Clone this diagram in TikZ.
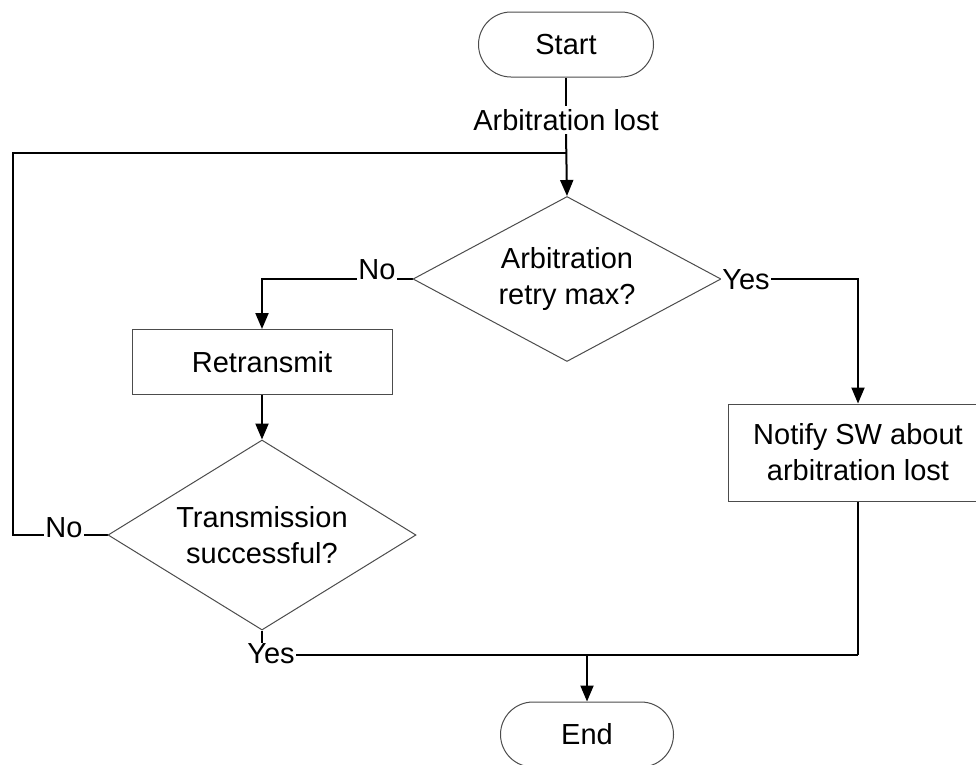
\documentclass[tikz,border=0pt]{standalone}
\usepackage{fontspec}
\setmainfont{Liberation Sans}
\usetikzlibrary{shapes.geometric,shapes.misc,arrows.meta,backgrounds}

\tikzset{
  base/.style={draw=black!70, line width=1pt, fill=white, inner sep=0pt,
               align=center, font=\fontsize{29}{36}\selectfont},
  terminal/.style={base, rounded rectangle, minimum height=65pt},
  process/.style={base, rectangle, minimum width=260pt},
  decision/.style={base, diamond, minimum width=308pt},
  lbl/.style={fill=white, inner sep=1pt, font=\fontsize{29}{36}\selectfont},
  conn/.style={line width=2pt, draw=black},
  arrow/.style={-{Triangle[length=16pt,width=13pt]}},
}

\begin{document}
\begin{tikzpicture}[x=1pt, y=-1pt]
  \useasboundingbox (0,0) rectangle (976,764);
  \clip (0,0) rectangle (976,764);

  % flowchart nodes
  \node[terminal, minimum width=175pt] (start) at (566,44.5) {Start};
  \node[decision, minimum height=165pt, aspect=1.87] (d1) at (567,279)
       {Arbitration\\retry max?};
  \node[process, minimum height=65pt] (ret) at (262,362) {Retransmit};
  \node[decision, minimum height=190pt, aspect=1.62] (d2) at (262,535)
       {Transmission\\successful?};
  \node[process, minimum height=97pt] (notify) at (858,452.5)
       {Notify SW about\\arbitration lost};
  \node[terminal, minimum width=173pt] (end) at (587,734.5) {End};

  % connector labels
  \node[lbl, inner sep=3pt] (lost) at (566,120) {Arbitration lost};
  \node[lbl, anchor=base] (no1) at (377,279) {No};
  \node[lbl] (yes1) at (746,280) {Yes};
  \node[lbl, anchor=base] (no2) at (64,537) {No};
  \node[lbl] (yes2) at (271,654) {Yes};

  % junction points
  \coordinate (j1) at (566,153);
  \coordinate (looptop) at (13,153);
  \coordinate (loopbot) at (13,535);
  \coordinate (mergeR) at (858,655);
  \coordinate (mergeE) at (587,655);

  \begin{pgfonlayer}{background}
    \draw[conn] (start.south) -- (lost.north);
    \draw[conn, arrow] (lost.south) -- (d1.north);
    \draw[conn, arrow] (d1.west) -| (ret.north);
    \draw[conn, arrow] (d1.east) -| (notify.north);
    \draw[conn, arrow] (ret.south) -- (d2.north);
    \draw[conn] (d2.west) -- (loopbot) -- (looptop) -- (j1);
    \draw[conn] (d2.south) |- (mergeR);
    \draw[conn] (notify.south) -- (mergeR);
    \draw[conn, arrow] (mergeE) -- (end.north);
  \end{pgfonlayer}
\end{tikzpicture}
\end{document}
